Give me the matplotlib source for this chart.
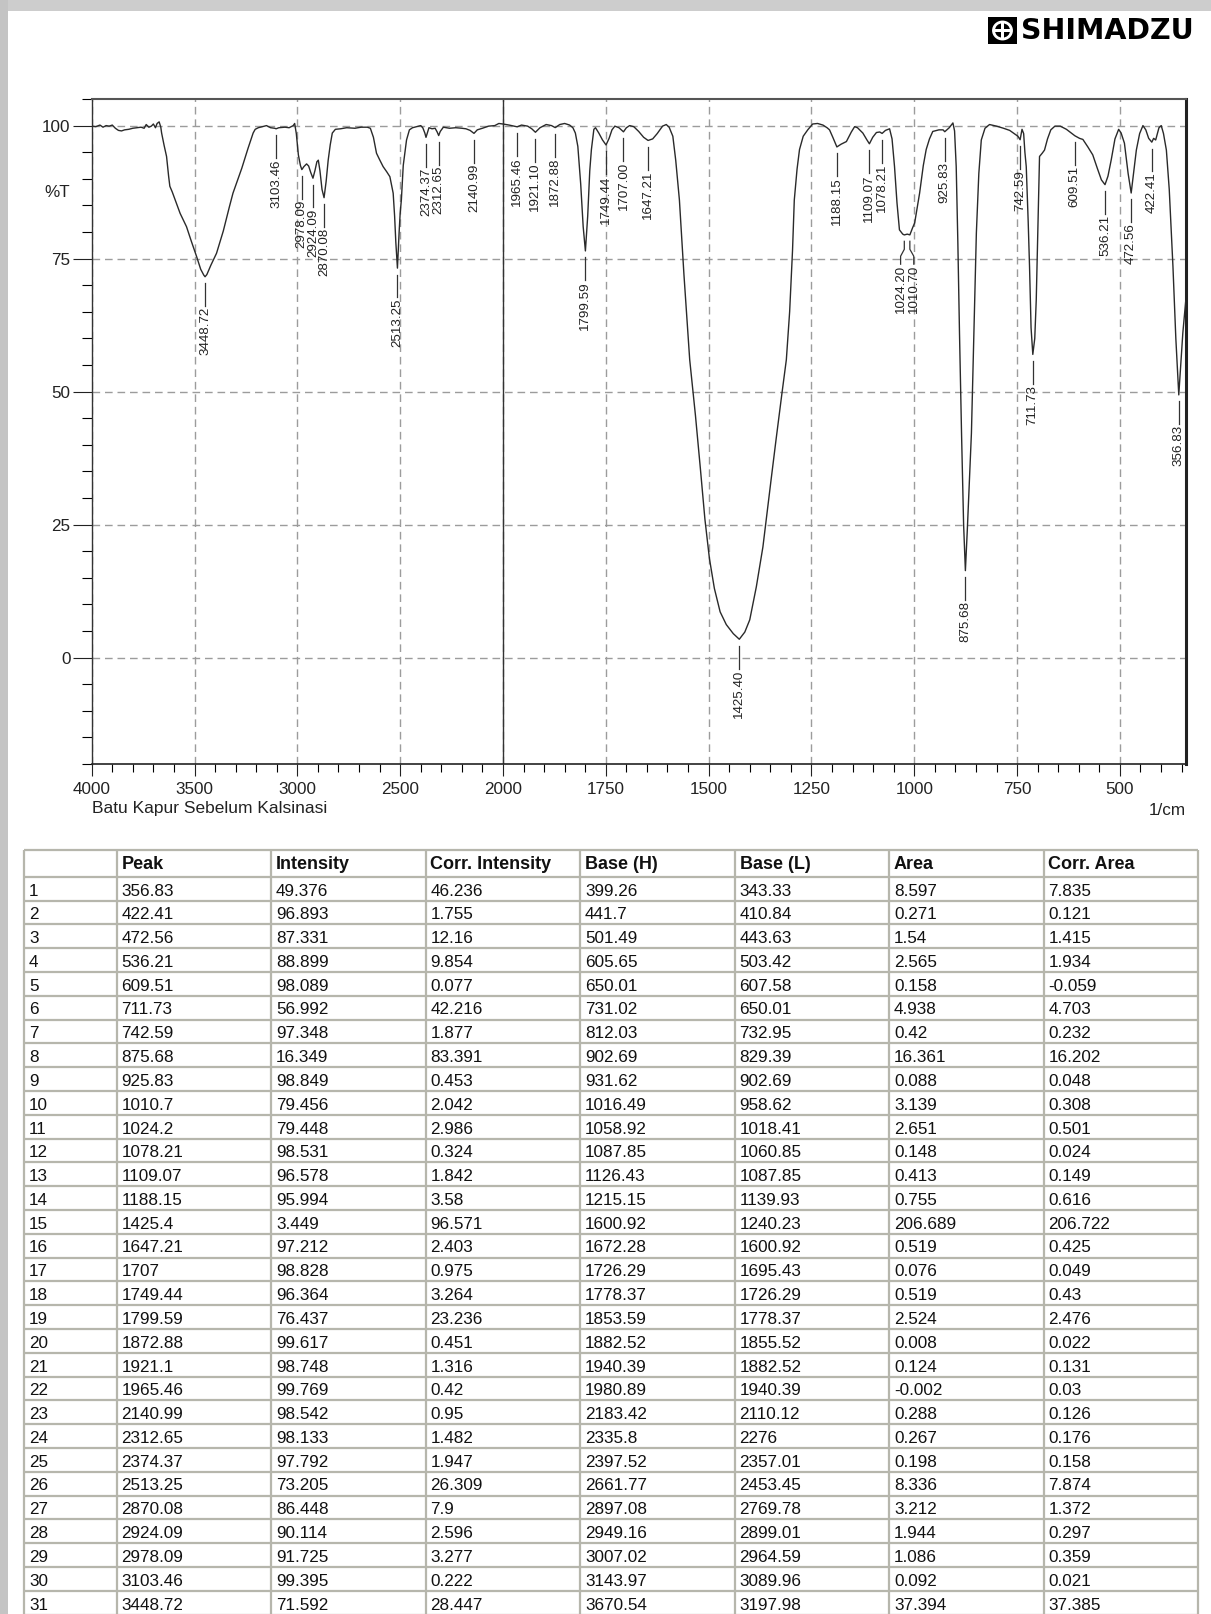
import matplotlib
matplotlib.use('Agg')
import matplotlib.pyplot as plt
import matplotlib.transforms as mtransforms
from matplotlib.patches import Rectangle, Circle
from matplotlib.ticker import FixedLocator
import numpy as np

plt.rcParams['font.family'] = ['Liberation Sans', 'DejaVu Sans']

W, H = 1211, 1614

sample_name = 'Batu Kapur Sebelum Kalsinasi'

# peak table
row_no = list(range(1, 32))
peak = [356.83, 422.41, 472.56, 536.21, 609.51, 711.73, 742.59, 875.68, 925.83, 1010.7,
        1024.2, 1078.21, 1109.07, 1188.15, 1425.4, 1647.21, 1707, 1749.44, 1799.59, 1872.88,
        1921.1, 1965.46, 2140.99, 2312.65, 2374.37, 2513.25, 2870.08, 2924.09, 2978.09, 3103.46,
        3448.72]
intensity = [49.376, 96.893, 87.331, 88.899, 98.089, 56.992, 97.348, 16.349, 98.849, 79.456,
             79.448, 98.531, 96.578, 95.994, 3.449, 97.212, 98.828, 96.364, 76.437, 99.617,
             98.748, 99.769, 98.542, 98.133, 97.792, 73.205, 86.448, 90.114, 91.725, 99.395,
             71.592]
corr_intensity = [46.236, 1.755, 12.16, 9.854, 0.077, 42.216, 1.877, 83.391, 0.453, 2.042,
                  2.986, 0.324, 1.842, 3.58, 96.571, 2.403, 0.975, 3.264, 23.236, 0.451,
                  1.316, 0.42, 0.95, 1.482, 1.947, 26.309, 7.9, 2.596, 3.277, 0.222,
                  28.447]
base_h = [399.26, 441.7, 501.49, 605.65, 650.01, 731.02, 812.03, 902.69, 931.62, 1016.49,
          1058.92, 1087.85, 1126.43, 1215.15, 1600.92, 1672.28, 1726.29, 1778.37, 1853.59, 1882.52,
          1940.39, 1980.89, 2183.42, 2335.8, 2397.52, 2661.77, 2897.08, 2949.16, 3007.02, 3143.97,
          3670.54]
base_l = [343.33, 410.84, 443.63, 503.42, 607.58, 650.01, 732.95, 829.39, 902.69, 958.62,
          1018.41, 1060.85, 1087.85, 1139.93, 1240.23, 1600.92, 1695.43, 1726.29, 1778.37, 1855.52,
          1882.52, 1940.39, 2110.12, 2276, 2357.01, 2453.45, 2769.78, 2899.01, 2964.59, 3089.96,
          3197.98]
area = [8.597, 0.271, 1.54, 2.565, 0.158, 4.938, 0.42, 16.361, 0.088, 3.139,
        2.651, 0.148, 0.413, 0.755, 206.689, 0.519, 0.076, 0.519, 2.524, 0.008,
        0.124, -0.002, 0.288, 0.267, 0.198, 8.336, 3.212, 1.944, 1.086, 0.092,
        37.394]
corr_area = [7.835, 0.121, 1.415, 1.934, -0.059, 4.703, 0.232, 16.202, 0.048, 0.308,
             0.501, 0.024, 0.149, 0.616, 206.722, 0.425, 0.049, 0.43, 2.476, 0.022,
             0.131, 0.03, 0.126, 0.176, 0.158, 7.874, 1.372, 0.297, 0.359, 0.021,
             37.385]
col_names = ['', 'Peak', 'Intensity', 'Corr. Intensity', 'Base (H)', 'Base (L)', 'Area', 'Corr. Area']

# spectrum (wavenumber, %T)
spec_wn = [4000, 3980, 3960, 3945, 3930, 3915, 3900, 3885, 3870, 3855, 3840, 3820, 3800, 3780,
           3760, 3745, 3735, 3722, 3710, 3700, 3690, 3682, 3672, 3664, 3660, 3648, 3636, 3626,
           3620, 3608, 3590, 3570, 3539, 3515, 3490, 3470, 3455, 3448.72, 3440, 3420, 3393, 3360,
           3330, 3313, 3290, 3270, 3240, 3215, 3205, 3190, 3170, 3150, 3130, 3110, 3103.46, 3090,
           3060, 3040, 3020, 3013, 3005, 2995, 2985, 2978.09, 2968, 2955, 2945, 2935, 2924.09, 2914,
           2905, 2898, 2890, 2880, 2870.08, 2860, 2850, 2840, 2830, 2815, 2790, 2760, 2720, 2690,
           2660, 2645, 2630, 2615, 2600, 2583, 2565, 2550, 2540, 2534, 2527, 2521, 2513.25, 2505,
           2500, 2494, 2485, 2469, 2455, 2440, 2420, 2400, 2390, 2380, 2374.37, 2368, 2360, 2345,
           2330, 2320, 2312.65, 2305, 2290, 2260, 2230, 2200, 2180, 2160, 2140.99, 2125, 2100, 2070,
           2040, 2020, 2000, 1985, 1965.46, 1955, 1940, 1930, 1921.1, 1910, 1895, 1882, 1872.88,
           1862, 1850, 1838, 1830, 1824, 1818, 1811, 1805, 1799.59, 1794, 1789, 1785, 1779, 1775,
           1767, 1758, 1749.44, 1742, 1735, 1728, 1718, 1707, 1700, 1692, 1682, 1670, 1658,
           1647.21, 1636, 1625, 1612, 1603, 1596, 1587, 1580, 1571, 1560, 1546, 1532, 1520, 1509,
           1498, 1486, 1472, 1457, 1440, 1425.4, 1412, 1400, 1384, 1368, 1360, 1348, 1336, 1322,
           1311, 1303, 1296, 1291.7, 1285, 1279, 1270, 1259, 1247, 1235, 1222, 1212, 1206, 1198,
           1190, 1188.15, 1178, 1165, 1153, 1145, 1138, 1125, 1115, 1109.07, 1101, 1092, 1084,
           1078.21, 1070, 1060, 1054, 1048, 1042, 1036, 1028, 1024.2, 1017, 1010.7, 1004, 999, 993,
           987, 978, 971, 963, 955, 940, 930, 925.83, 915, 906, 902, 898, 894, 890, 885, 880,
           875.68, 871, 866, 861, 855, 849, 843, 837, 828, 817, 800, 783, 768, 755, 748, 742.59,
           738, 734, 731, 727.7, 723, 719.7, 716, 711.73, 707, 703.4, 699, 695.4, 689, 683.3, 676,
           668, 658, 645, 630, 618, 609.51, 598, 590, 578, 566, 555, 545, 536.21, 529, 521, 512,
           503, 497, 489, 480, 472.56, 466, 460, 452, 444, 437, 430, 422.41, 418, 413, 405, 399.5,
           394, 387, 380, 371, 364, 356.83, 352, 347, 340]
spec_t = [99.9, 99.8, 100.1, 99.7, 100.0, 99.9, 100.1, 99.5, 99.1, 99.0, 99.2, 99.3, 99.5, 99.6,
          99.7, 99.5, 100.2, 99.7, 99.9, 100.3, 99.6, 100.4, 100.7, 99.7, 98.6, 96.3, 94.2, 90.5,
          88.6, 87.5, 85.6, 83.5, 81.0, 78.2, 75.4, 73.0, 71.9, 71.59, 72.0, 73.8, 76.0, 80.2,
          84.8, 87.3, 89.8, 92.0, 95.7, 98.6, 99.3, 99.6, 99.8, 100.0, 99.6, 99.5, 99.4, 99.6,
          99.7, 99.6, 100.0, 100.4, 98.5, 94.5, 92.5, 91.73, 92.3, 92.8, 92.4, 91.2, 90.11, 91.6,
          93.2, 93.5, 91.5, 88.0, 86.45, 89.5, 93.5, 96.4, 98.6, 99.3, 99.4, 99.6, 99.5, 99.7,
          99.7, 99.5, 97.8, 94.8, 93.6, 92.3, 91.3, 90.4, 88.5, 87.3, 83.0, 78.0, 73.21, 80.0,
          83.5, 86.1, 92.5, 97.3, 99.2, 99.6, 99.8, 100.0, 99.6, 98.6, 97.79, 98.6, 99.6, 99.4,
          99.5, 98.8, 98.13, 98.9, 99.7, 99.5, 99.6, 99.5, 99.4, 99.1, 98.54, 99.2, 99.5, 99.9,
          100.0, 100.4, 100.3, 100.1, 99.77, 100.1, 99.9, 99.4, 98.75, 99.6, 100.2, 100.0, 99.62,
          100.2, 100.4, 100.1, 99.6, 98.6, 96.1, 89.0, 81.0, 76.44, 83.0, 91.5, 95.5, 99.3, 99.6,
          98.6, 97.3, 96.36, 97.6, 99.2, 99.9, 99.6, 98.83, 99.6, 100.0, 99.8, 98.9, 97.8,
          97.21, 97.5, 98.5, 99.9, 100.2, 99.7, 98.0, 93.5, 86.0, 72.0, 56.0, 45.5, 35.5, 26.0,
          18.6, 13.0, 8.6, 6.2, 4.5, 3.45, 4.8, 7.1, 13.3, 20.8, 25.9, 33.5, 41.0, 49.5,
          56.0, 65.0, 76.5, 86.0, 91.8, 95.5, 98.0, 99.2, 100.3, 100.4, 100.1, 99.6, 99.2, 97.8,
          96.3, 95.99, 96.5, 97.0, 98.8, 99.8, 99.6, 98.6, 97.3, 96.58, 97.8, 98.7, 98.8,
          98.53, 99.1, 99.4, 97.5, 92.3, 85.5, 80.4, 79.6, 79.45, 79.6, 79.46, 80.8, 81.7, 84.5,
          87.3, 92.5, 95.5, 97.5, 98.9, 99.2, 99.2, 98.85, 99.6, 100.5, 99.0, 92.3, 78.0, 61.0,
          42.0, 25.0, 16.35, 24.0, 33.0, 42.2, 61.0, 79.8, 91.0, 97.3, 99.5, 100.2, 99.9, 99.5,
          99.1, 98.4, 98.0, 97.35, 99.3, 98.5, 95.0, 92.3, 82.0, 73.5, 62.0, 56.99, 60.0, 67.2,
          82.0, 94.2, 94.8, 95.4, 97.5, 99.2, 99.9, 99.9, 99.3, 98.6, 98.09, 97.6, 97.4, 96.0,
          94.5, 92.0, 89.8, 88.9, 90.5, 93.6, 97.5, 99.3, 98.6, 96.7, 91.0, 87.33, 91.5, 95.4,
          98.5, 100.0, 99.2, 97.6, 96.89, 97.6, 97.3, 99.6, 100.0, 98.5, 95.4, 88.0, 73.5, 60.0,
          49.38, 55.0, 61.0, 67.0]

# labels pushed sideways where two peaks sit too close (cm-1)
label_shift = {1024.2: 9.0, 1010.7: -9.5}


def fwd(w):
    # Shimadzu axis: 4000-2000 drawn at half the scale of 2000-350
    w = np.asarray(w, dtype=float)
    return np.where(w > 2000, 2000 + (w - 2000) / 2.0, w)


def inv(u):
    u = np.asarray(u, dtype=float)
    return np.where(u > 2000, 2000 + (u - 2000) * 2.0, u)


fig = plt.figure(figsize=(W / 100, H / 100), dpi=100)
fig.patch.set_facecolor('white')

# grey page edge
fig.add_artist(Rectangle((0, 1 - 11 / H), 1, 11 / H, transform=fig.transFigure,
                         facecolor='#cdcdcd', edgecolor='none', zorder=0))
fig.add_artist(Rectangle((0, 0), 8 / W, 1, transform=fig.transFigure,
                         facecolor='#c4c4c4', edgecolor='none', zorder=0))

ax = fig.add_axes([91.7 / W, 1 - 764 / H, (1185.7 - 91.7) / W, (764 - 99) / H])
ax.set_xscale('function', functions=(fwd, inv))
ax.set_xlim(4000, 340)
ax.set_ylim(-20, 105)

major_x = [4000, 3500, 3000, 2500, 2000, 1750, 1500, 1250, 1000, 750, 500]
minor_x = [v for v in range(3900, 2000, -100) if v not in major_x] + \
          [v for v in range(1950, 340, -50) if v not in major_x]
ax.xaxis.set_major_locator(FixedLocator(major_x))
ax.xaxis.set_minor_locator(FixedLocator(minor_x))
ax.set_xticklabels([str(v) for v in major_x])
ax.yaxis.set_major_locator(FixedLocator([0, 25, 50, 75, 100]))
ax.yaxis.set_minor_locator(FixedLocator([v for v in range(-20, 106, 5) if v % 25 != 0]))

ax.tick_params(axis='x', which='major', direction='out', length=8.8, width=0.8, pad=4.5,
               labelsize=12.3, colors='#222222')
ax.tick_params(axis='x', which='minor', direction='out', length=5.8, width=0.8)
ax.tick_params(axis='y', which='major', direction='out', length=13.7, width=0.8, pad=1.5,
               labelsize=12.3, colors='#222222')
ax.tick_params(axis='y', which='minor', direction='out', length=7.2, width=0.8)

ax.grid(True, which='major', color='#9c9c9c', linestyle=(0, (5.5, 3.5)), linewidth=1.0)
ax.axvline(2000, color='#333333', lw=1.0, zorder=2)

for side, lw, c in [('left', 1.0, '#333333'), ('bottom', 1.2, '#222222'),
                    ('top', 1.5, '#555555'), ('right', 2.2, '#222222')]:
    ax.spines[side].set_linewidth(lw)
    ax.spines[side].set_color(c)

ax.plot(spec_wn, spec_t, color='#2a2a2a', lw=1.0, zorder=3)

# peak pick labels
gap, lead = 1.2, 4.3
for p, t in zip(peak, intensity):
    top = t - gap
    bot = top - lead
    dx = label_shift.get(p, 0.0)
    if dx:
        xs = [p, p, p + dx, p + dx]
        ys = [top, top - 1.5, top - 2.8, bot]
    else:
        xs, ys = [p, p], [top, bot]
    ax.plot(xs, ys, color='#333333', lw=0.9, zorder=3)
    ax.text(p + dx, bot - 0.2, f'{p:.2f}', rotation=90, ha='center', va='top',
            fontsize=9.6, color='#222222', zorder=4)

trans = mtransforms.blended_transform_factory(ax.transAxes, ax.transData)
ax.text(-0.02, 87.5, '%T', transform=trans, ha='right', va='center', fontsize=12.3, color='#222222')

fig.text(91.7 / W, 1 - 808 / H, sample_name, ha='left', va='center', fontsize=12.5, color='#222222')
fig.text(1185.7 / W, 1 - 810.7 / H, '1/cm', ha='right', va='center', fontsize=12.3, color='#222222')

# maker logo
lax = fig.add_axes([988 / W, 1 - 44.3 / H, 29 / W, 27.6 / H])
lax.set_xlim(0, 1)
lax.set_ylim(0, 1)
lax.axis('off')
lax.add_patch(Rectangle((0, 0), 1, 1, facecolor='black', edgecolor='none'))
lax.add_patch(Circle((0.5, 0.5), 0.36, facecolor='white', edgecolor='none'))
lax.add_patch(Circle((0.5, 0.5), 0.26, facecolor='black', edgecolor='none'))
lax.add_patch(Rectangle((0.2, 0.44), 0.6, 0.12, facecolor='white', edgecolor='none'))
lax.add_patch(Rectangle((0.44, 0.2), 0.12, 0.6, facecolor='white', edgecolor='none'))
fig.text(1021 / W, 1 - 31 / H, 'SHIMADZU', ha='left', va='center', fontsize=20.5,
         fontweight='bold', family='DejaVu Sans', color='black')

# peak table
tax = fig.add_axes([24 / W, 0, 1174 / W, 764 / H])
tax.set_xlim(0, 1174)
tax.set_ylim(764, 0)
tax.axis('off')
col_edges = [0, 92.5] + [92.5 + 154.5 * k for k in range(1, 8)]
row_edges = [0, 26.7] + [26.7 + 23.8 * k for k in range(1, 32)]
edge_c = '#b6b6ac'
tax.hlines(row_edges, 0, 1174, color=edge_c, lw=1.6, clip_on=False)
tax.vlines(col_edges, 0, row_edges[-1], color=edge_c, lw=1.6, clip_on=False)

for j, name in enumerate(col_names):
    tax.text(col_edges[j] + 5, row_edges[1] - 7.5, name, ha='left', va='baseline',
             fontsize=13.0, fontweight='bold', color='#111111')

columns = [row_no, peak, intensity, corr_intensity, base_h, base_l, area, corr_area]
for i in range(len(peak)):
    yb = row_edges[i + 2] - 5
    for j, col in enumerate(columns):
        tax.text(col_edges[j] + 5, yb, f'{col[i]:g}', ha='left', va='baseline',
                 fontsize=12.3, color='#111111')

fig.savefig('out.png', dpi=100)
